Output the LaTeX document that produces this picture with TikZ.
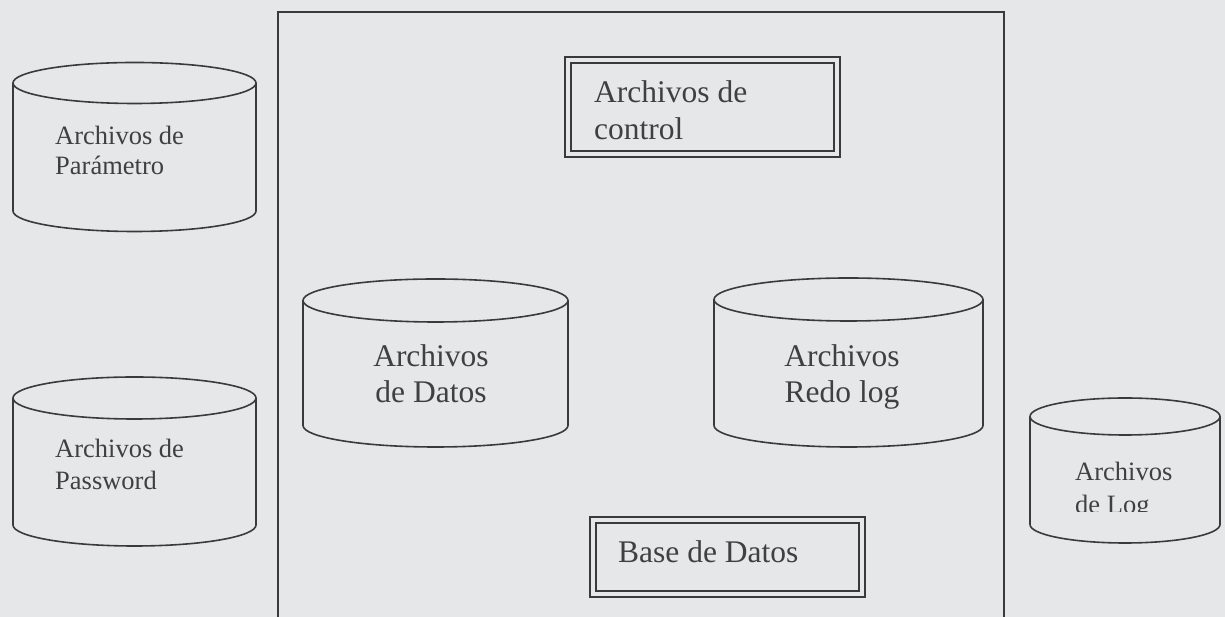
\documentclass[tikz,border=0pt]{standalone}
\usepackage{fontspec}
\setmainfont{Liberation Serif}
\usetikzlibrary{calc}

\definecolor{paper}{HTML}{E5E7E9}
\definecolor{ink}{HTML}{3A3A3A}
\definecolor{textink}{HTML}{404040}

\tikzset{
  frame/.style={draw=ink, line width=1.8pt},
  cylline/.style={draw=ink, line width=1.6pt},
  dblbox/.style={draw=ink, line width=2.2pt, double=paper, double distance=3.8pt,
                 rectangle, inner sep=0pt},
  smalltxt/.style={font=\fontsize{26.5}{30}\selectfont, text=textink, inner sep=0pt, anchor=base west},
  bigtxt/.style={font=\fontsize{31.5}{37}\selectfont, text=textink, inner sep=0pt, anchor=base west},
  bigctr/.style={bigtxt, anchor=base},
}

% storage drum: name, centre x, top-ellipse y, bottom-ellipse y, x radius, y radius
\newcommand{\storagedrum}[6]{%
  \coordinate (#1-top) at (#2,#3);
  \coordinate (#1-bot) at (#2,#4);
  \draw[cylline] ($(#1-top)+(-#5,0)$) -- ($(#1-bot)+(-#5,0)$)
     arc[start angle=180, end angle=360, x radius=#5pt, y radius=#6pt]
     -- ($(#1-top)+(#5,0)$);
  \draw[cylline] (#1-top) ellipse[x radius=#5pt, y radius=#6pt];
}

\begin{document}
\begin{tikzpicture}[x=1pt, y=1pt]
  \useasboundingbox (0,0) rectangle (1225,617);
  \fill[paper] (0,0) rectangle (1225,617);

  % database enclosure
  \draw[frame] (278,-2) rectangle (1004,605);

  % control files and database title boxes
  \node[dblbox, minimum width=269pt, minimum height=94pt] (control) at (702.5,510) {};
  \node[bigtxt] (controlA) at (594,514) {Archivos de};
  \node[bigtxt] (controlB) at (594,477) {control};

  \node[dblbox, minimum width=269pt, minimum height=74pt] (db) at (727.5,60) {};
  \node[bigtxt] (dbA) at (618,54) {Base de Datos};

  % file stores
  \storagedrum{param}{134.5}{534}{406}{121.5}{20.5}
  \node[smalltxt] (paramA) at (55,472) {Archivos de};
  \node[smalltxt] (paramB) at (55,442) {Parámetro};

  \storagedrum{pass}{134.5}{219}{92}{121.5}{21}
  \node[smalltxt] (passA) at (55,159) {Archivos de};
  \node[smalltxt] (passB) at (55,127) {Password};

  \storagedrum{datos}{435.5}{316.5}{191.5}{132.5}{21.5}
  \node[bigctr] (datosA) at (431,250) {Archivos};
  \node[bigctr] (datosB) at (431,214) {de Datos};

  \storagedrum{redo}{848.5}{317.5}{191.5}{134.5}{21.5}
  \node[bigctr] (redoA) at (842,250) {Archivos};
  \node[bigctr] (redoB) at (842,214) {Redo log};

  \storagedrum{logf}{1125}{200.5}{92.5}{95}{18.5}
  \node[smalltxt] (logA) at (1075,136) {Archivos};
  \begin{scope}
    \clip (1060,105.5) rectangle (1200,130);
    \node[smalltxt] (logB) at (1075,103) {de Log};
  \end{scope}
\end{tikzpicture}
\end{document}
